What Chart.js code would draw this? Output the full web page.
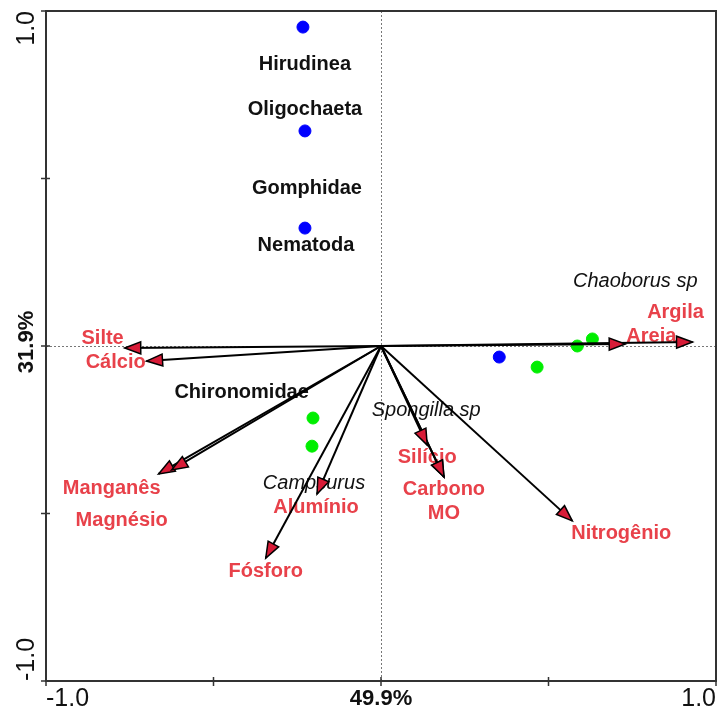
<!DOCTYPE html>
<html>
<head>
<meta charset="utf-8">
<script src="https://cdn.jsdelivr.net/npm/chart.js@4/dist/chart.umd.min.js"></script>
<style>
  html, body { margin: 0; padding: 0; background: #fff; }
  canvas { display: block; }
</style>
</head>
<body>
<canvas id="biplot" width="717" height="715"></canvas>
<script>
// Axis ticks and labels
const axisTicks = [-1, -0.5, 0, 0.5, 1];
const xTickLabels = ["-1.0", "", "49.9%", "", "1.0"];
const yTickLabels = ["-1.0", "", "31.9%", "", "1.0"];

// Environmental variables (arrows)
const envNames = ["Argila", "Areia", "Silte", "Cálcio", "Manganês", "Magnésio", "Fósforo", "Alumínio", "Silício", "Carbono", "MO", "Nitrogênio"];
const envX = [0.930, 0.729, -0.765, -0.700, -0.664, -0.625, -0.344, -0.191, 0.138, 0.188, 0.188, 0.571];
const envY = [0.012, 0.006, -0.006, -0.045, -0.382, -0.370, -0.633, -0.442, -0.296, -0.391, -0.391, -0.522];
const envLabelX = [0.879, 0.807, -0.831, -0.792, -0.804, -0.774, -0.344, -0.194, 0.138, 0.188, 0.188, 0.717];
const envLabelY = [0.101, 0.027, 0.021, -0.048, -0.424, -0.522, -0.672, -0.481, -0.334, -0.427, -0.499, -0.561];

// Taxa labels
const taxaBold = ["Hirudinea", "Oligochaeta", "Gomphidae", "Nematoda", "Chironomidae"];
const taxaBoldX = [-0.227, -0.227, -0.221, -0.224, -0.416];
const taxaBoldY = [0.839, 0.707, 0.469, 0.299, -0.140];
const taxaItalic = ["Chaoborus sp", "Spongilla sp", "Campsurus"];
const taxaItalicX = [0.759, 0.135, -0.200];
const taxaItalicY = [0.194, -0.191, -0.409];

// Sample points
const blueX = [-0.233, -0.227, -0.227, 0.353];
const blueY = [0.952, 0.642, 0.352, -0.033];
const greenX = [-0.203, -0.206, 0.466, 0.586, 0.631];
const greenY = [-0.215, -0.299, -0.063, 0.0, 0.021];

const RED = "#e8414a";
const FONT = "'Liberation Sans', Arial, sans-serif";

const toPoints = (xs, ys) => xs.map((v, i) => ({ x: v, y: ys[i] }));

const arrowSets = envNames.map((name, i) => ({
  label: name,
  type: "line",
  data: [{ x: 0, y: 0 }, { x: envX[i], y: envY[i] }],
  borderColor: "#000",
  borderWidth: 2,
  pointRadius: 0,
  fill: false,
  order: 0
}));

const overlay = {
  id: "overlay",
  beforeDatasetsDraw(chart) {
    const { ctx, chartArea: a, scales: { x, y } } = chart;
    const x0 = x.getPixelForValue(0);
    const y0 = y.getPixelForValue(0);

    // dotted zero lines
    ctx.save();
    ctx.strokeStyle = "#777";
    ctx.lineWidth = 1;
    ctx.setLineDash([2, 2]);
    ctx.beginPath();
    ctx.moveTo(x0 + 0.5, a.top);
    ctx.lineTo(x0 + 0.5, a.bottom);
    ctx.moveTo(a.left, y0 + 0.5);
    ctx.lineTo(a.right, y0 + 0.5);
    ctx.stroke();
    ctx.restore();

    // labels
    ctx.save();
    ctx.textAlign = "center";
    ctx.textBaseline = "middle";
    ctx.font = "bold 20px " + FONT;
    ctx.fillStyle = "#111";
    taxaBold.forEach((t, i) => {
      ctx.fillText(t, x.getPixelForValue(taxaBoldX[i]), y.getPixelForValue(taxaBoldY[i]));
    });
    ctx.font = "italic 20px " + FONT;
    taxaItalic.forEach((t, i) => {
      ctx.fillText(t, x.getPixelForValue(taxaItalicX[i]), y.getPixelForValue(taxaItalicY[i]));
    });
    ctx.font = "bold 20px " + FONT;
    ctx.fillStyle = RED;
    envNames.forEach((t, i) => {
      ctx.fillText(t, x.getPixelForValue(envLabelX[i]), y.getPixelForValue(envLabelY[i]));
    });
    ctx.restore();
  },
  afterDatasetsDraw(chart) {
    const { ctx, scales: { x, y } } = chart;
    const ox = x.getPixelForValue(0);
    const oy = y.getPixelForValue(0);
    ctx.save();
    ctx.fillStyle = "#d81b37";
    ctx.strokeStyle = "#000";
    ctx.lineWidth = 1.5;
    envNames.forEach((_, i) => {
      const tx = x.getPixelForValue(envX[i]);
      const ty = y.getPixelForValue(envY[i]);
      const ang = Math.atan2(ty - oy, tx - ox);
      const len = 16, half = 6;
      const bx = tx - len * Math.cos(ang);
      const by = ty - len * Math.sin(ang);
      const px = -Math.sin(ang) * half;
      const py = Math.cos(ang) * half;
      ctx.beginPath();
      ctx.moveTo(tx, ty);
      ctx.lineTo(bx + px, by + py);
      ctx.lineTo(bx - px, by - py);
      ctx.closePath();
      ctx.fill();
      ctx.stroke();
    });
    ctx.restore();
  },
  afterDraw(chart) {
    const { ctx, chartArea: a, scales: { x, y } } = chart;
    ctx.save();
    // frame
    ctx.strokeStyle = "#333";
    ctx.lineWidth = 2;
    ctx.strokeRect(a.left, a.top, a.right - a.left, a.bottom - a.top);

    // tick marks
    ctx.lineWidth = 1.5;
    ctx.beginPath();
    axisTicks.forEach(v => {
      const px = x.getPixelForValue(v);
      ctx.moveTo(px, a.bottom - 4);
      ctx.lineTo(px, a.bottom + 5);
      const py = y.getPixelForValue(v);
      ctx.moveTo(a.left - 5, py);
      ctx.lineTo(a.left + 4, py);
    });
    ctx.stroke();

    // x tick labels
    ctx.fillStyle = "#111";
    ctx.textBaseline = "middle";
    axisTicks.forEach((v, i) => {
      const lab = xTickLabels[i];
      if (!lab) return;
      const px = x.getPixelForValue(v);
      if (v === 0) {
        ctx.font = "bold 22px 'Liberation Sans Narrow', " + FONT;
        ctx.textAlign = "center";
      } else {
        ctx.font = "25px " + FONT;
        ctx.textAlign = v < 0 ? "left" : "right";
      }
      ctx.fillText(lab, px, a.bottom + 18);
    });

    // y tick labels (rotated)
    axisTicks.forEach((v, i) => {
      const lab = yTickLabels[i];
      if (!lab) return;
      const py = y.getPixelForValue(v);
      ctx.save();
      ctx.translate(27, py);
      ctx.rotate(-Math.PI / 2);
      if (v === 0) {
        ctx.font = "bold 22px 'Liberation Sans Narrow', " + FONT;
        ctx.textAlign = "center";
        ctx.fillText(lab, 4, 0);
      } else {
        ctx.font = "25px " + FONT;
        ctx.textAlign = v < 0 ? "left" : "right";
        ctx.fillText(lab, 0, 0);
      }
      ctx.restore();
    });
    ctx.restore();
  }
};

new Chart(document.getElementById("biplot"), {
  type: "scatter",
  data: {
    datasets: [
      ...arrowSets,
      {
        label: "Blue sites",
        data: toPoints(blueX, blueY),
        backgroundColor: "#0000ff",
        borderColor: "#0000ff",
        pointRadius: 6,
        order: 1
      },
      {
        label: "Green sites",
        data: toPoints(greenX, greenY),
        backgroundColor: "#00ee00",
        borderColor: "#00ee00",
        pointRadius: 6,
        order: 1
      }
    ]
  },
  options: {
    responsive: false,
    animation: false,
    devicePixelRatio: 1,
    layout: { autoPadding: false, padding: { left: 46, top: 11, right: 1, bottom: 34 } },
    plugins: {
      legend: { display: false },
      tooltip: { enabled: false }
    },
    scales: {
      x: { type: "linear", min: -1, max: 1, display: false },
      y: { type: "linear", min: -1, max: 1, display: false }
    }
  },
  plugins: [overlay]
});
</script>
</body>
</html>
